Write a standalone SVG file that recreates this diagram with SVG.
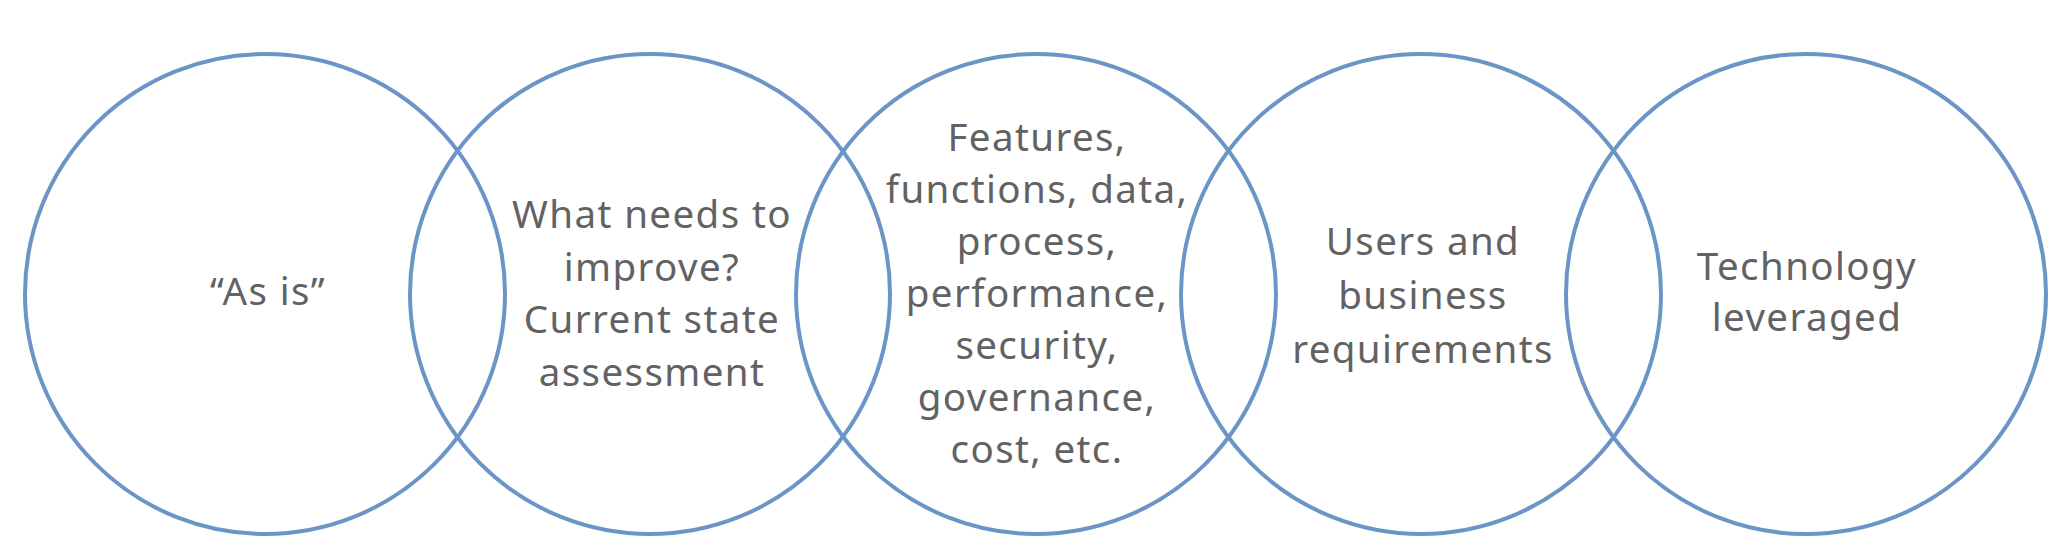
<svg xmlns="http://www.w3.org/2000/svg" width="2072" height="560" viewBox="0 0 2072 560">
<style>
.c{fill:none;stroke:#6b95c6;stroke-width:4}
.t{font-family:"Noto Sans","Liberation Sans",sans-serif;font-size:38.5px;letter-spacing:1.4px;fill:#626262;text-anchor:middle}
</style>
<rect width="2072" height="560" fill="#ffffff"/>
<g id="node-as-is">
<circle class="c" cx="265" cy="294" r="240"/>
<text class="t" x="268" y="305">“As is”</text>
</g>
<g id="node-improve">
<circle class="c" cx="650" cy="294" r="240"/>
<text class="t" x="652" y="228">What needs to</text>
<text class="t" x="652" y="281">improve?</text>
<text class="t" x="652" y="333">Current state</text>
<text class="t" x="652" y="386">assessment</text>
</g>
<g id="node-features">
<circle class="c" cx="1036" cy="294" r="240"/>
<text class="t" x="1037" y="151">Features,</text>
<text class="t" x="1037" y="203">functions, data,</text>
<text class="t" x="1037" y="255">process,</text>
<text class="t" x="1037" y="307">performance,</text>
<text class="t" x="1037" y="359">security,</text>
<text class="t" x="1037" y="411">governance,</text>
<text class="t" x="1037" y="463">cost, etc.</text>
</g>
<g id="node-users">
<circle class="c" cx="1421" cy="294" r="240"/>
<text class="t" x="1423" y="255">Users and</text>
<text class="t" x="1423" y="309">business</text>
<text class="t" x="1423" y="363">requirements</text>
</g>
<g id="node-technology">
<circle class="c" cx="1806" cy="294" r="240"/>
<text class="t" x="1807" y="280">Technology</text>
<text class="t" x="1807" y="331">leveraged</text>
</g>
<g id="connectors"></g>
</svg>
